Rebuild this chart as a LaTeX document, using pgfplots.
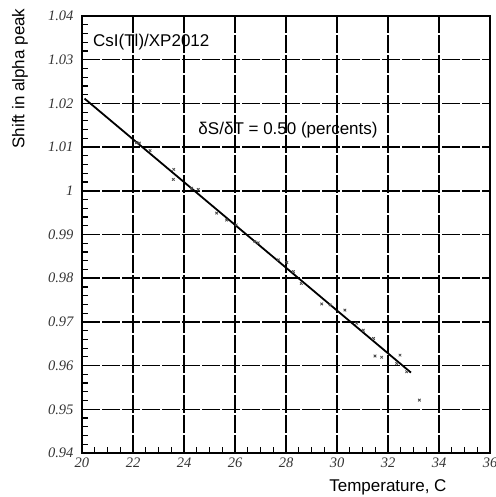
\documentclass[border=0pt]{standalone}
\usepackage{pgfplots}
\pgfplotsset{compat=1.18}
\usepackage{fontspec}
\setmainfont{Liberation Sans}
\newfontfamily\serifnum{Liberation Serif}
\begin{document}
\begin{tikzpicture}
\begin{axis}[
  scale only axis,
  width=408pt, height=437pt,
  xmin=20, xmax=36, ymin=0.94, ymax=1.04,
  xtick={20,22,...,36},
  ytick={0.94,0.95,0.96,0.97,0.98,0.99,1,1.01,1.02,1.03,1.04},
  yticklabels={0.94,0.95,0.96,0.97,0.98,0.99,1,1.01,1.02,1.03,1.04},
  minor x tick num=3, minor y tick num=4,
  tick pos=left, tick align=inside,
  major tick length=0pt, minor tick length=6pt,
  minor tick style={line width=1.2pt, black},
  axis line style={line width=2pt},
  grid=major,
  major grid style={black, line width=1.5pt, dash pattern=on 18pt off 2pt},
  /pgf/number format/assume math mode=true,
  ticklabel style={font=\serifnum\itshape\fontsize{14.5}{15}\selectfont, text=black!80},
  yticklabel style={xshift=-5pt},
  xticklabel style={yshift=-1pt},
  clip=false,
]
\addplot[only marks, mark=x, mark size=1.8pt, gray!60!black, line width=0.8pt] coordinates {
(22.14,1.0110) (22.25,1.0109) (22.67,1.0092) (23.60,1.0049) (23.58,1.0026)
(24.30,1.0006) (24.56,1.0003) (25.28,0.9949) (25.67,0.9933) (26.05,0.9922)
(26.78,0.9884) (26.91,0.9881) (27.70,0.9842) (28.03,0.9836) (28.29,0.9815)
(28.60,0.9788) (29.40,0.9741) (29.73,0.9739) (30.31,0.9727) (30.77,0.9697)
(31.03,0.9681) (31.43,0.9662) (31.49,0.9622) (31.75,0.9619) (32.34,0.9605)
(32.47,0.9624) (32.73,0.9586) (33.23,0.9521)
};
\addplot[black, line width=1.8pt] coordinates {(20.1,1.0211) (32.9,0.9584)};
\node[anchor=west, font=\fontsize{17}{18}\selectfont] at (axis cs:20.3,1.034) {CsI(Tl)/XP2012};
\node[anchor=west, font=\fontsize{17}{18}\selectfont] at (axis cs:24.43,1.0139) {δS/δT = 0.50 (percents)};
\node[anchor=east, font=\fontsize{17}{18}\selectfont] at ([xshift=-40pt,yshift=-34pt]rel axis cs:1,0) {Temperature, C};
\node[rotate=90, anchor=east, font=\fontsize{17}{18}\selectfont] at ([xshift=-62pt,yshift=11pt]rel axis cs:0,1) {Shift in alpha peak};
\coordinate (SW) at (rel axis cs:0,0);
\coordinate (NE) at (rel axis cs:1,1);
\end{axis}
\pgfresetboundingbox
\path ([shift={(-82pt,-44pt)}]SW) rectangle ([shift={(5pt,16pt)}]NE);
\end{tikzpicture}
\end{document}
